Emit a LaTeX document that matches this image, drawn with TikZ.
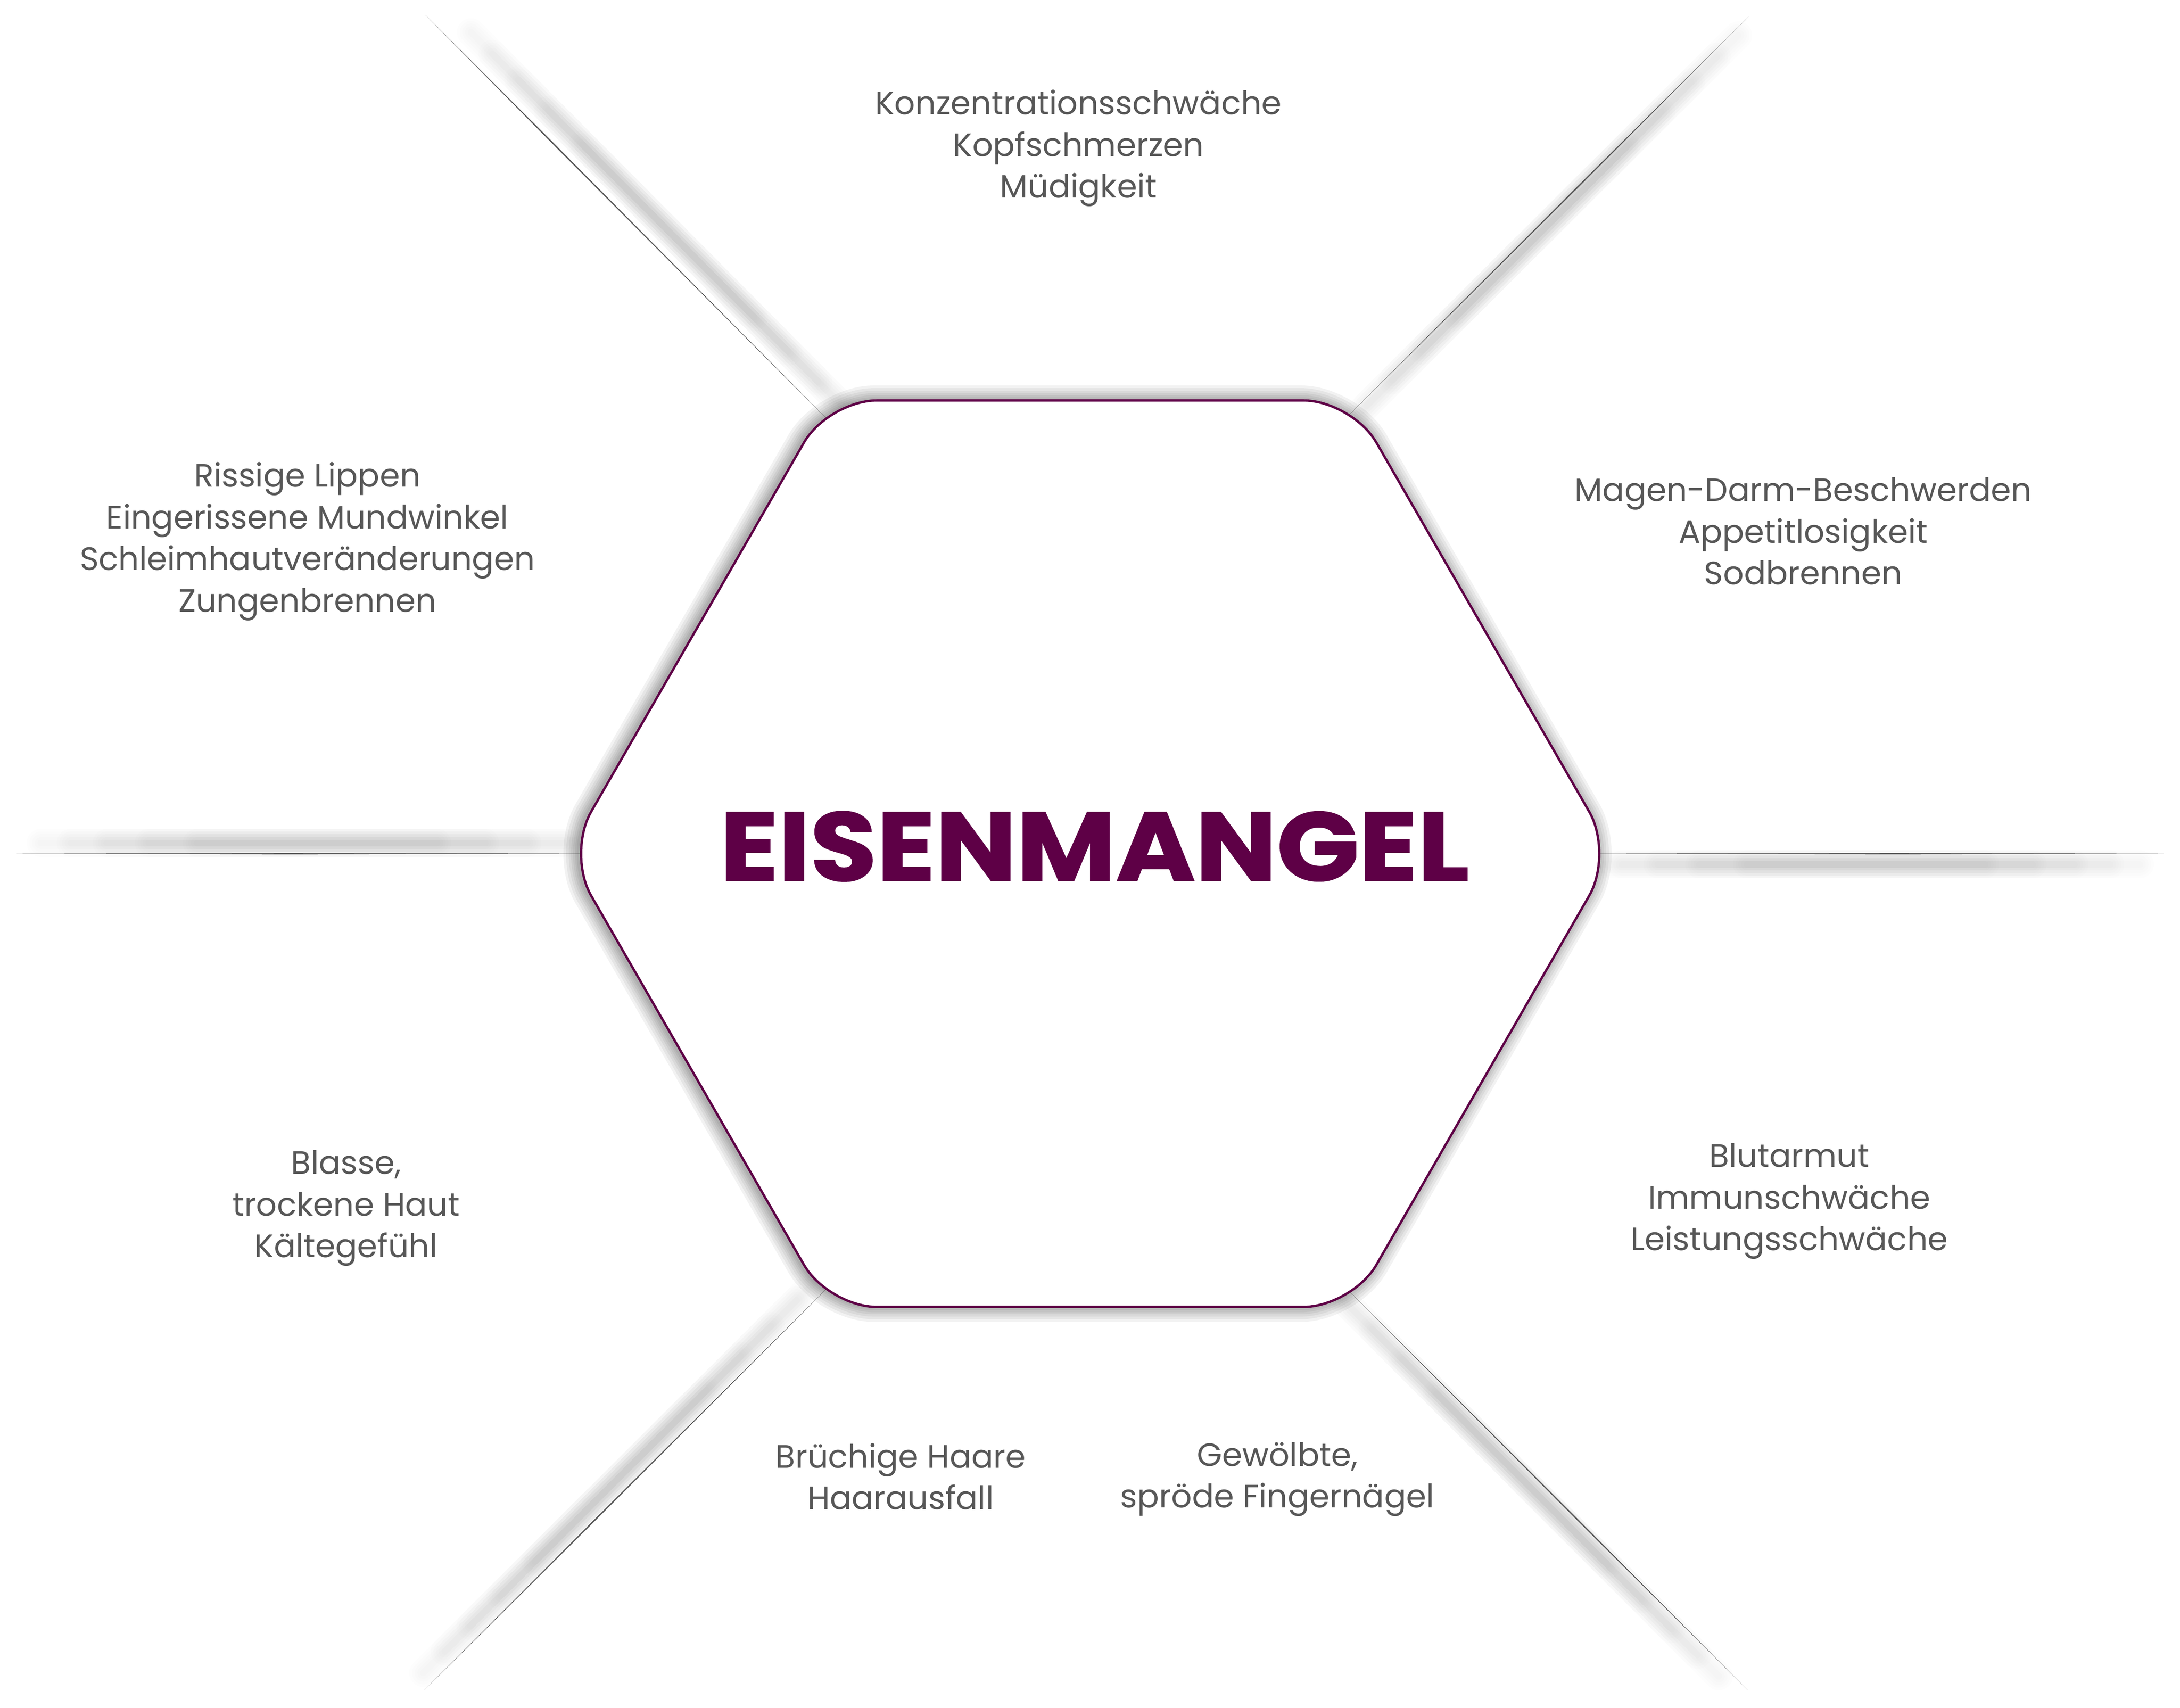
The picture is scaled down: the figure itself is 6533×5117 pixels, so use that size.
\documentclass[tikz,border=0pt]{standalone}
\usepackage{fontspec}
\setmainfont{Poppins}
\newfontfamily\titlefont[BoldFeatures={FakeBold=1.2}]{Poppins}
\usetikzlibrary{calc}
\definecolor{eisen}{HTML}{5E0046}
\definecolor{txtgray}{HTML}{575757}
\definecolor{linegray}{HTML}{555555}
\newcommand{\hexpath}{(3267,1200) -- (4052,1200) -- (4835,2558) -- (4052,3916) -- (2482,3916) -- (1699,2558) -- (2482,1200) -- cycle}
% tapered spoke: outer point, inner point, fraction of max width
\newcommand{\taper}[3]{%
  \fill[linegray] (#1) -- ($(#1)!#3!(#2)!0.6pt!90:(#2)$) -- (#2) -- ($(#1)!#3!(#2)!0.6pt!-90:(#2)$) -- cycle;}
% soft shadow of a spoke: outer, inner, offset
\newcommand{\lshadow}[3]{%
  \foreach \f in {0.04,0.09,0.15,0.22,0.30}{%
    \foreach \w in {84,68,52,36,20}{%
      \draw[black,opacity=0.0062,line width=\w*0.2845pt,line cap=round]
        ($(#1)!\f!(#2)+#3$) -- ($(#2)!\f!(#1)+#3$);}}}
\tikzset{
  body/.style={font=\fontsize{27.6pt}{35.6pt}\selectfont, text=txtgray, anchor=base, inner sep=0pt},
  titletext/.style={font=\fontsize{83pt}{90pt}\selectfont\titlefont\bfseries, text=eisen, anchor=base, inner sep=0pt},
  hexshape/.style={rounded corners=1.45cm, line join=round}
}
\begin{document}
\begin{tikzpicture}[x=0.01cm,y=-0.01cm]
\path[fill=white,use as bounding box] (0,0) rectangle (6533,5117);
% spoke end points
\coordinate (o1) at (1275,45);   \coordinate (i1) at (2560,1338);
\coordinate (o2) at (5240,50);   \coordinate (i2) at (3960,1326);
\coordinate (o3) at (50,2558);   \coordinate (i3) at (1850,2558);
\coordinate (o4) at (6484,2558); \coordinate (i4) at (4700,2558);
\coordinate (o5) at (1272,5064); \coordinate (i5) at (2558,3781);
\coordinate (o6) at (5237,5064); \coordinate (i6) at (3956,3781);
% spoke shadows
\lshadow{o1}{i1}{(85,0)}
\lshadow{o2}{i2}{(20,5)}
\lshadow{o3}{i3}{(0,-32)}
\lshadow{o4}{i4}{(0,32)}
\lshadow{o5}{i5}{(-55,0)}
\lshadow{o6}{i6}{(-35,10)}
% spokes
\taper{o1}{i1}{0.3}
\taper{o2}{i2}{0.4}
\taper{o3}{i3}{0.45}
\taper{o4}{i4}{0.45}
\taper{o5}{i5}{0.4}
\taper{o6}{i6}{0.4}
% hexagon shadow
\begin{scope}[shift={(-8,0)}]
\foreach \w in {90,74,58,44,32,20,10}{\draw[black,opacity=0.05,line width=\w*0.2845pt,hexshape] \hexpath;}
\end{scope}
\fill[white,hexshape] \hexpath;
\draw[eisen,line width=2pt,hexshape] \hexpath;
% title
\node[titletext] (title) at (3280,2639) {\scalebox{1.11}[1]{EISENMANGEL}};
% top
\node[body] (ta) at (3232,343) {Konzentrationsschwäche};
\node[body] (tb) at (3232,468) {Kopfschmerzen};
\node[body] (tc) at (3232,593) {Müdigkeit};
% left top
\node[body] (la) at (921,1459) {Rissige Lippen};
\node[body] (lb) at (921,1584) {Eingerissene Mundwinkel};
\node[body] (lc) at (921,1709) {Schleimhautveränderungen};
\node[body] (ld) at (921,1834) {Zungenbrennen};
% right top
\node[body] (ra) at (5404,1502) {Magen-Darm-Beschwerden};
\node[body] (rb) at (5404,1627) {Appetitlosigkeit};
\node[body] (rc) at (5404,1752) {Sodbrennen};
% right bottom
\node[body] (sa) at (5362,3497) {Blutarmut};
\node[body] (sb) at (5362,3622) {Immunschwäche};
\node[body] (sc) at (5362,3747) {Leistungsschwäche};
% left bottom
\node[body] (ma) at (1037,3518) {Blasse,};
\node[body] (mb) at (1037,3643) {trockene Haut};
\node[body] (mc) at (1037,3768) {Kältegefühl};
% bottom left
\node[body] (ba) at (2699,4399) {Brüchige Haare};
\node[body] (bb) at (2699,4523) {Haarausfall};
% bottom right
\node[body] (ca) at (3828,4393) {Gewölbte,};
\node[body] (cb) at (3828,4518) {spröde Fingernägel};
\end{tikzpicture}
\end{document}
